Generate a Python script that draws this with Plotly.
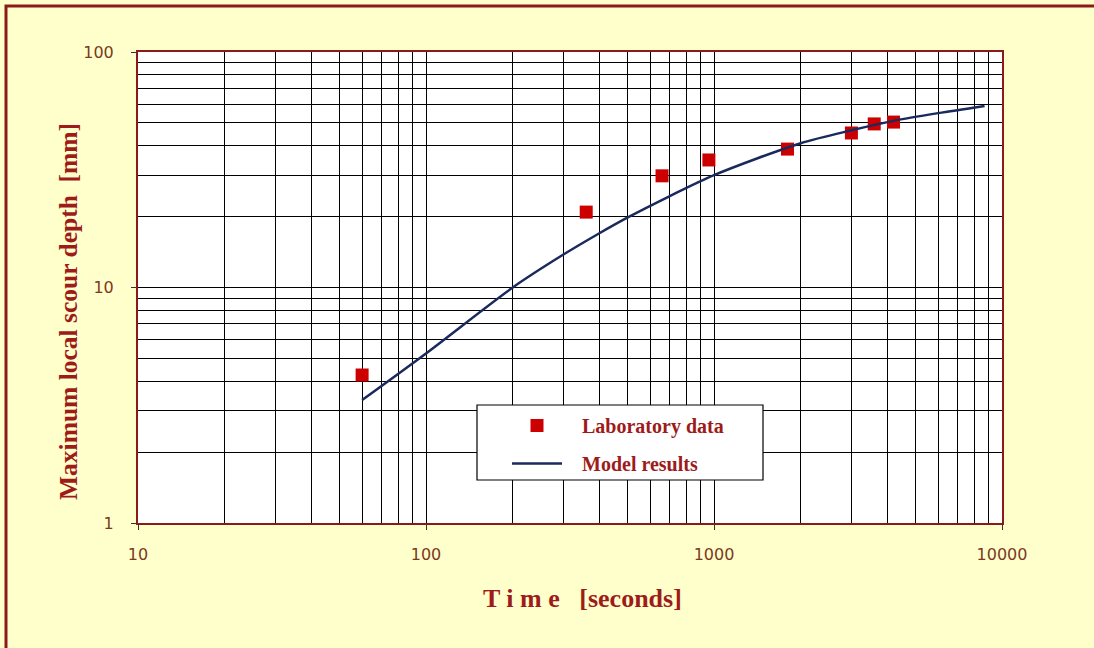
import plotly.graph_objects as go

# Laboratory data
lab_time = [60, 360, 660, 960, 1800, 3000, 3600, 4200]
lab_depth = [4.25, 20.9, 29.8, 34.8, 38.7, 45.3, 49.5, 50.4]

# Model results
model_time = [60, 100, 200, 300, 400, 500, 700, 1000, 2000, 3000, 4200, 6000, 8700]
model_depth = [3.33, 5.25, 10.0, 13.8, 17.0, 19.8, 24.4, 30.0, 41.0, 46.5, 51.0, 55.0, 59.0]

x_major = [10, 100, 1000, 10000]
x_labels = ["10", "100", "1000", "10000"]
y_major = [1, 10, 100]
y_labels = ["1", "10", "100"]
x_minor = [m * d for d in [10, 100, 1000] for m in range(2, 10)]
y_minor = [m * d for d in [1, 10] for m in range(2, 10)]

DARKRED = "#8B1A1A"
TITLE_RED = "#9E1B1B"
TICK_COL = "#7A3A22"

L, T, PW, PH = 138, 52, 864, 471

fig = go.Figure()
fig.add_trace(go.Scatter(
    x=lab_time, y=lab_depth, mode="markers",
    name="&nbsp;&nbsp;&nbsp;<b>Laboratory data</b>",
    marker=dict(symbol="square", size=13, color="#CC0000", line=dict(width=0)),
    legendgroup="a",
))
fig.add_trace(go.Scatter(
    x=model_time, y=model_depth, mode="lines",
    name="&nbsp;&nbsp;&nbsp;<b>Model results</b>",
    line=dict(color="#1B2A5C", width=2.5, shape="spline", smoothing=0.8),
    legendgroup="b",
))

axis_common = dict(
    type="log", showline=True, mirror=True, linecolor=DARKRED, linewidth=2,
    showgrid=True, gridcolor="black", gridwidth=1.2,
    ticks="outside", ticklen=5, tickcolor="#333333",
    tickfont=dict(family="DejaVu Sans", size=16, color=TICK_COL),
    zeroline=False, automargin=False,
)

fig.update_xaxes(
    **axis_common, range=[1, 4], tickvals=x_major, ticktext=x_labels,
    ticklabelstandoff=11,
    minor=dict(tickvals=x_minor, showgrid=True, gridcolor="black",
               gridwidth=1.2, ticks=""),
)
fig.update_yaxes(
    **axis_common, range=[0, 2], tickvals=y_major, ticktext=y_labels,
    ticklabelstandoff=14,
    minor=dict(tickvals=y_minor, showgrid=True, gridcolor="black",
               gridwidth=1.2, ticks=""),
)

def px_x(p):
    return (p - L) / PW

def px_y(p):
    return (L * 0 + (T + PH) - p) / PH

# axis titles
fig.add_annotation(text="<b>T i m e   [seconds]</b>", xref="paper", yref="paper",
                   x=px_x(582), y=px_y(598), showarrow=False,
                   xanchor="center", yanchor="middle",
                   font=dict(family="Liberation Serif", size=26, color=TITLE_RED))
fig.add_annotation(text="<b>Maximum local scour depth  [mm]</b>", xref="paper",
                   yref="paper", x=px_x(68), y=px_y(312), showarrow=False,
                   textangle=-90, xanchor="center", yanchor="middle",
                   font=dict(family="Liberation Serif", size=25.5, color=TITLE_RED))

# outer frame
fig.add_shape(type="rect", xref="paper", yref="paper",
              x0=px_x(6), y0=-0.30, x1=1.12, y1=px_y(6),
              line=dict(color=DARKRED, width=3), fillcolor="rgba(0,0,0,0)",
              layer="below")
# legend box
fig.add_shape(type="rect", xref="paper", yref="paper",
              x0=px_x(477), x1=px_x(763), y0=px_y(480), y1=px_y(405),
              line=dict(color="black", width=1.2), fillcolor="white",
              layer="above")

fig.update_layout(
    width=1094, height=648,
    margin=dict(l=L, r=1094 - L - PW, t=T, b=648 - T - PH),
    paper_bgcolor="#FFFFCC", plot_bgcolor="white",
    showlegend=True,
    legend=dict(
        x=px_x(507), y=px_y(406), xanchor="left", yanchor="top",
        bgcolor="rgba(0,0,0,0)", borderwidth=0,
        font=dict(family="Liberation Serif", size=20, color=TITLE_RED),
        traceorder="grouped", tracegroupgap=9, itemwidth=50,
    ),
)

fig.write_html("out.html", config={"displayModeBar": False},
               post_script="document.body.style.margin='0';")
